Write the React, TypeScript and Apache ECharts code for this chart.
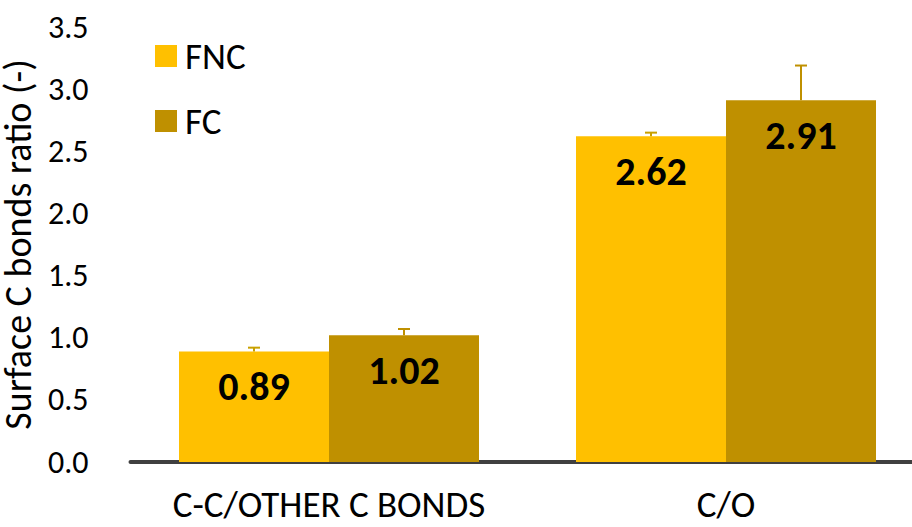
import React, { useEffect, useRef } from "react";
import * as echarts from "echarts";

const categories = ["C-C/OTHER C BONDS", "C/O"];
const seriesNames = ["FNC", "FC"];
const fncValues = [0.89, 2.62];
const fcValues = [1.02, 2.91];
const fncErrors = [0.03, 0.03];
const fcErrors = [0.05, 0.28];
const yTicks = { min: 0, max: 3.5, interval: 0.5 };

const FONT = "Carlito, Lato, 'Open Sans', sans-serif";
const colors = ["#FFC000", "#BF9000"];
const errColors = ["#C9A000", "#BF9000"];

export default function App() {
  const ref = useRef<HTMLDivElement>(null);
  useEffect(() => {
    if (!ref.current) return;
    const chart = echarts.init(ref.current, null, { renderer: "svg" });
    const barWidth = 150;
    const makeErr = (vals: number[], errs: number[], idx: number) => ({
      type: "custom",
      name: seriesNames[idx] + " err",
      z: 5,
      data: vals.map((v, i) => [i, v, v + errs[i]]),
      renderItem: (params: any, api: any) => {
        const c = api.value(0);
        const lo = api.coord([c, api.value(1)]);
        const hi = api.coord([c, api.value(2)]);
        const offset = idx === 0 ? -barWidth / 2 : barWidth / 2;
        const x = lo[0] + offset;
        const style = { stroke: errColors[idx], lineWidth: 2 };
        return {
          type: "group",
          children: [
            { type: "line", shape: { x1: x, y1: lo[1], x2: x, y2: hi[1] }, style },
            { type: "line", shape: { x1: x - 6, y1: hi[1], x2: x + 6, y2: hi[1] }, style },
          ],
        };
      },
    });
    const label = {
      show: true,
      position: "insideTop",
      distance: 15,
      fontFamily: FONT,
      fontWeight: "bold",
      fontSize: 40,
      color: "#000",
      formatter: (p: any) => p.value.toFixed(2),
    };
    chart.setOption({
      animation: false,
      grid: {
        left: 130.5,
        right: -12.5,
        top: 27,
        bottom: 65,
        containLabel: false,
        outerBoundsMode: "none",
      },
      legend: {
        data: seriesNames,
        orient: "vertical",
        left: 155,
        top: 36,
        padding: 0,
        itemWidth: 22,
        itemHeight: 22,
        itemGap: 25,
        icon: "rect",
        textStyle: { fontFamily: FONT, fontSize: 37, lineHeight: 40, color: "#000", padding: [0, 0, 0, 3] },
      },
      xAxis: {
        type: "category",
        data: categories,
        axisLine: { lineStyle: { color: "#404040", width: 4 } },
        axisTick: { show: false },
        axisLabel: {
          interval: 0,
          fontFamily: FONT,
          fontSize: 37,
          lineHeight: 36,
          color: "#000",
          margin: 24,
        },
      },
      yAxis: {
        type: "value",
        min: yTicks.min,
        max: yTicks.max,
        interval: yTicks.interval,
        name: "Surface C bonds ratio (-)",
        nameLocation: "middle",
        nameGap: 74,
        nameTextStyle: { fontFamily: FONT, fontSize: 38, lineHeight: 36, color: "#000" },
        axisLine: { show: false },
        axisTick: { show: false },
        splitLine: { show: false },
        axisLabel: {
          fontFamily: FONT,
          fontSize: 32,
          color: "#000",
          margin: 42,
          formatter: (v: number) => v.toFixed(1),
        },
      },
      series: [
        {
          type: "bar",
          name: seriesNames[0],
          data: fncValues,
          barWidth,
          barGap: "0%",
          itemStyle: { color: colors[0] },
          label,
        },
        {
          type: "bar",
          name: seriesNames[1],
          data: fcValues,
          barWidth,
          barGap: "0%",
          itemStyle: { color: colors[1] },
          label,
        },
        makeErr(fncValues, fncErrors, 0),
        makeErr(fcValues, fcErrors, 1),
      ],
    });
    return () => chart.dispose();
  }, []);
  return (
    <div
      ref={ref}
      style={{ position: "absolute", left: 0, top: 0, width: 912, height: 527 }}
    />
  );
}
